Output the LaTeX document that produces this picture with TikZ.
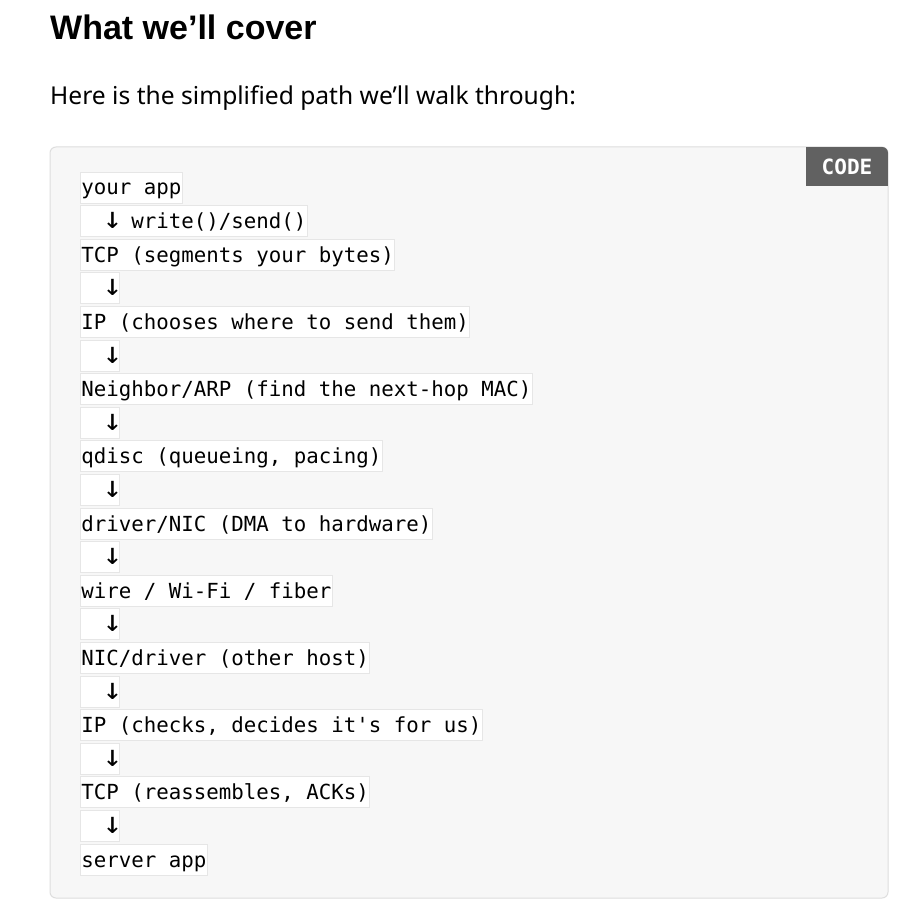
\documentclass[tikz,border=0pt]{standalone}
\usepackage{fontspec}
\usepackage{graphicx}
\setmainfont{Noto Sans}
\setmonofont{DejaVu Sans Mono}
\newfontfamily\headfont{Liberation Sans}
\newcommand{\dnarrow}{\makebox[12.5pt]{\scalebox{1.55}[1.45]{↓}}}
\definecolor{boxfill}{HTML}{F7F7F7}
\definecolor{boxline}{HTML}{DEDEDE}
\definecolor{badgefill}{HTML}{616161}
\definecolor{linegray}{HTML}{E6E6E6}
\tikzset{
  codeline/.style={fill=white, draw=linegray, line width=0.8pt, inner xsep=1pt, inner ysep=0pt,
    minimum height=31pt, text height=20pt, text depth=5pt, anchor=west,
    font=\fontsize{20.76}{24}\ttfamily},
  heading/.style={anchor=base west, inner sep=0pt, font=\fontsize{34}{40}\headfont\bfseries},
  subtitle/.style={anchor=base west, inner sep=0pt, font=\fontsize{24.6}{29}\selectfont},
  badge/.style={anchor=center, inner sep=0pt, text=white, font=\fontsize{21}{24}\ttfamily\bfseries}
}
\begin{document}
\begin{tikzpicture}[x=1pt,y=-1pt]
\useasboundingbox[fill=white] (0,0) rectangle (908,909);
\node[heading] (title) at (50,40) {What we’ll cover};
\node[subtitle] (sub) at (50,105) {Here is the simplified path we’ll walk through:};
% code box
\draw[fill=boxfill, draw=boxline, line width=1pt, rounded corners=6pt] (50,147) rectangle (888,898);
\begin{scope}
  \clip[rounded corners=6pt] (50,147) rectangle (888,898);
  \fill[badgefill] (806,147) rectangle (888,186);
\end{scope}
\node[badge] (code) at (847,167) {CODE};
% lines
\foreach \i/\t in {0/{your app},
  1/{\phantom{xx}\dnarrow\ write()/send()},
  2/{TCP (segments your bytes)},
  3/{\phantom{xx}\dnarrow},
  4/{IP (chooses where to send them)},
  5/{\phantom{xx}\dnarrow},
  6/{Neighbor/ARP (find the next-hop MAC)},
  7/{\phantom{xx}\dnarrow},
  8/{qdisc (queueing, pacing)},
  9/{\phantom{xx}\dnarrow},
  10/{driver/NIC (DMA to hardware)},
  11/{\phantom{xx}\dnarrow},
  12/{wire / Wi-Fi / fiber},
  13/{\phantom{xx}\dnarrow},
  14/{NIC/driver (other host)},
  15/{\phantom{xx}\dnarrow},
  16/{IP (checks, decides it's for us)},
  17/{\phantom{xx}\dnarrow},
  18/{TCP (reassembles, ACKs)},
  19/{\phantom{xx}\dnarrow},
  20/{server app}}
{
  \node[codeline] (l\i) at (80,187.5+33.6*\i) {\t};
}
\end{tikzpicture}
\end{document}
